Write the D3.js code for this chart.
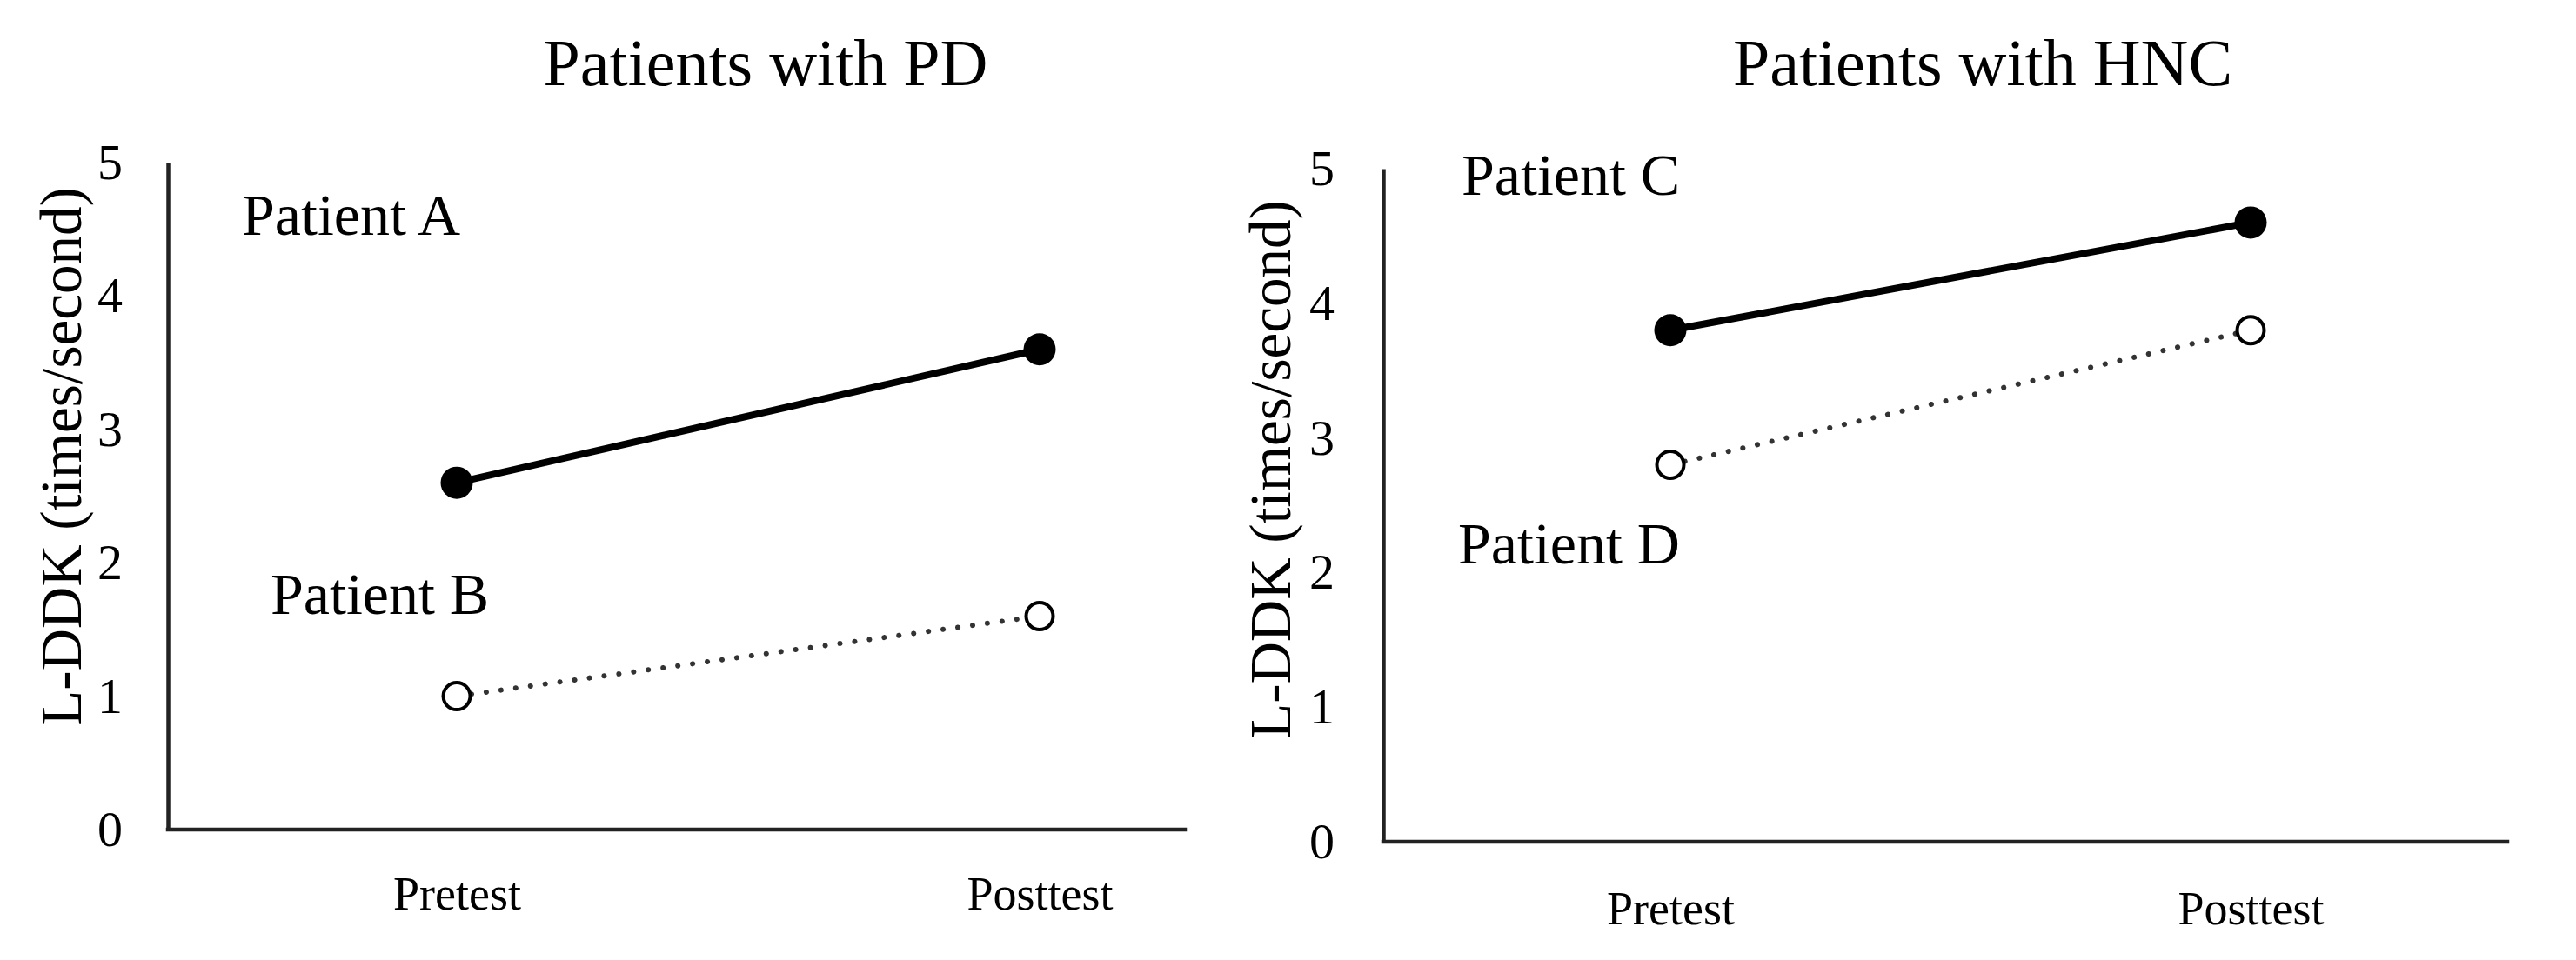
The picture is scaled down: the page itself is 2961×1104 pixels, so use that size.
<!DOCTYPE html>
<html>
<head>
<meta charset="utf-8">
<script src="https://cdn.jsdelivr.net/npm/d3@7"></script>
<style>
  html, body { margin: 0; padding: 0; background: #fff; }
  svg { display: block; }
  text { font-family: "Liberation Serif", "Times New Roman", serif; fill: #000; }
</style>
</head>
<body>
<svg id="chart" width="2961" height="1104"></svg>
<script>
// ---- data ----
const categories = ["Pretest", "Posttest"];
const yTicks = [0, 1, 2, 3, 4, 5];
const panelTitles = ["Patients with PD", "Patients with HNC"];
const yAxisLabel = "L-DDK (times/second)";
const patientA = [2.6, 3.6];
const patientB = [1.0, 1.6];
const patientC = [3.8, 4.6];
const patientD = [2.8, 3.8];

// ---- layout ----
const svg = d3.select("#chart");
const panels = [
  { title: panelTitles[0], axisX: 193, axisEnd: 1362, y0: 954, y5: 187,
    pre: 525, post: 1195, titleX: 880, labelX: 70, labelY: 525, tickPad: 52,
    catY: 1046,
    series: [
      { name: "Patient A", values: patientA, filled: true, lx: 278, ly: 270 },
      { name: "Patient B", values: patientB, filled: false, lx: 311, ly: 706 }
    ] },
  { title: panelTitles[1], axisX: 1590, axisEnd: 2882, y0: 968, y5: 194,
    pre: 1920, post: 2587, titleX: 2279, labelX: 1460, labelY: 540, tickPad: 56,
    catY: 1063,
    series: [
      { name: "Patient C", values: patientC, filled: true, lx: 1680, ly: 224 },
      { name: "Patient D", values: patientD, filled: false, lx: 1676, ly: 648 }
    ] }
];

panels.forEach(p => {
  const g = svg.append("g");
  const x = d3.scalePoint().domain(categories).range([p.pre, p.post]);
  const y = d3.scaleLinear().domain([0, 5]).range([p.y0, p.y5]);

  // title
  g.append("text").attr("x", p.titleX).attr("y", 98)
    .attr("text-anchor", "middle").attr("font-size", 76).text(p.title);

  // y axis
  const ya = g.append("g").attr("transform", `translate(${p.axisX},0)`)
    .call(d3.axisLeft(y).tickValues(yTicks).tickSize(0).tickSizeOuter(0)
      .tickPadding(p.tickPad).tickFormat(d3.format("d")));
  ya.select(".domain").attr("stroke", "#222").attr("stroke-width", 4.5);
  ya.selectAll(".tick text").attr("font-size", 58)
    .attr("font-family", "Liberation Serif, serif").attr("fill", "#222");

  // x axis baseline
  g.append("line").attr("x1", p.axisX).attr("x2", p.axisEnd)
    .attr("y1", y(0)).attr("y2", y(0))
    .attr("stroke", "#222").attr("stroke-width", 4.5).attr("stroke-linecap", "square");

  // category labels
  const xa = g.append("g").attr("transform", `translate(0,${p.catY})`)
    .call(d3.axisBottom(x).tickSize(0).tickPadding(0));
  xa.select(".domain").remove();
  xa.selectAll(".tick text").attr("font-size", 54).attr("dy", 0)
    .attr("font-family", "Liberation Serif, serif").attr("fill", "#111");

  // y axis label
  g.append("text")
    .attr("transform", `translate(${p.labelX},${p.labelY}) rotate(-90)`)
    .attr("text-anchor", "middle").attr("dominant-baseline", "central")
    .attr("font-size", 67).text(yAxisLabel);

  // series
  const line = d3.line().x((d, i) => x(categories[i])).y(d => y(d));
  p.series.forEach(s => {
    g.append("path").datum(s.values).attr("d", line).attr("fill", "none")
      .attr("stroke", s.filled ? "#000" : "#333")
      .attr("stroke-width", s.filled ? 8 : 6)
      .attr("stroke-linecap", s.filled ? "butt" : "round")
      .attr("stroke-dasharray", s.filled ? null : "0.1 17");
    g.selectAll(null).data(s.values).enter().append("circle")
      .attr("cx", (d, i) => x(categories[i])).attr("cy", d => y(d))
      .attr("r", s.filled ? 18.5 : 15.5)
      .attr("fill", s.filled ? "#000" : "#fff")
      .attr("stroke", "#000").attr("stroke-width", s.filled ? 0 : 4);
    g.append("text").attr("x", s.lx).attr("y", s.ly)
      .attr("font-size", 68).text(s.name);
  });
});
</script>
</body>
</html>
